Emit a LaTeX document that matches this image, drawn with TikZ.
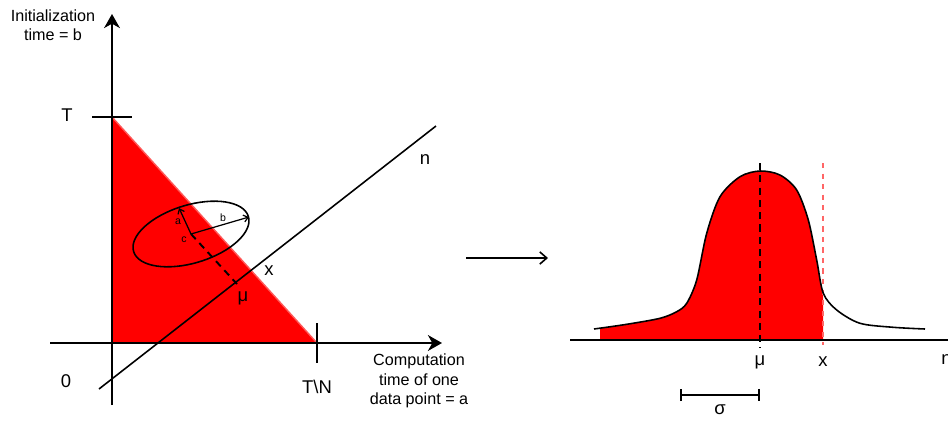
\documentclass[tikz,border=0pt]{standalone}
\usepackage{fontspec}
\setmainfont{Liberation Sans}
\usetikzlibrary{arrows.meta}
\begin{document}
\begin{tikzpicture}[x=0.02cm,y=-0.02cm,
  lbl/.style={font=\fontsize{9.2}{11}\selectfont, align=center, inner sep=0},
  big/.style={font=\fontsize{10.5}{12}\selectfont, inner sep=0},
  tiny/.style={font=\fontsize{6}{7}\selectfont, inner sep=0},
  axisline/.style={line width=1.2pt},
  thinline/.style={line width=0.9pt},
  axhead/.style={-{Stealth[length=8pt,width=9pt,inset=2.5pt]}},
  openhead/.style={-{Straight Barb[length=4pt,width=7pt]}},
  smallhead/.style={-{Straight Barb[length=2.5pt,width=4pt]}}]
\useasboundingbox (0,0) rectangle (948,420);

% ---------- left diagram ----------
\coordinate (O) at (112,343);
\coordinate (Ttop) at (112,117);
\coordinate (TN) at (317,343);
\fill[red] (Ttop) -- (TN) -- (O) -- cycle;
\draw[red!65!white, line width=0.8pt] (Ttop) -- (TN);

\coordinate (yb) at (112,405);
\coordinate (yt) at (112,14);
\coordinate (xl) at (50,343);
\coordinate (xr) at (442,343);
\draw[axisline,axhead] (yb) -- (yt);
\draw[axisline,axhead] (xl) -- (xr);

\coordinate (Tl) at (92,117);
\coordinate (Tr) at (132,117);
\draw[axisline] (Tl) -- (Tr);
\coordinate (TNt) at (317,323);
\coordinate (TNb) at (317,363);
\draw[axisline] (TNt) -- (TNb);

\node[big] (Tlab) at (67,115) {T};
\node[big] (zero) at (66,381) {0};
\node[big] (TNlab) at (317,387) {T\textbackslash N};

\node[lbl] (ylab) at (53,25) {Initialization\\time = b};
\node[lbl] (xlab) at (419,381) {Computation\\time of one\\data point = a};

% line n
\coordinate (n1) at (99,389);
\coordinate (n2) at (436,126);
\draw[thinline] (n1) -- (n2);
\node[big] (nlab) at (425,160) {n};

% ellipse
\coordinate (c) at (191,234);
\draw[thinline, rotate around={17:(c)}] (c) ellipse [x radius=60, y radius=29];
\coordinate (ea) at (179,208);
\coordinate (eb) at (249,217);
\draw[line width=0.7pt,smallhead] (c) -- (ea);
\draw[line width=0.7pt,smallhead] (c) -- (eb);
\node[tiny] (alab) at (178,222) {a};
\node[tiny] (blab) at (223,218) {b};
\node[tiny] (clab) at (184,240) {c};
\coordinate (mu1) at (237,284);
\draw[line width=1.1pt, dash pattern=on 4pt off 3pt] (c) -- (mu1);
\node[big] (mulab1) at (243,298) {μ};
\node[big] (xlab1) at (269,271) {x};

% middle arrow
\coordinate (m1) at (466,258);
\coordinate (m2) at (548,258);
\draw[thinline,openhead] (m1) -- (m2);

% ---------- right diagram ----------
\def\bell{(594,329) (626.7,324.3) (660,318.3) (676.7,311.7) (686.7,303.3) (696.7,280) (706.7,233.3) (720,196.7) (740,176.7) (760,171) (780,175) (796.7,190) (808.3,220) (816.7,260) (823.3,293.3) (836.7,310) (860,323.3) (893.3,327.3) (925,329)}
\begin{scope}
  \clip (600,100) rectangle (823,340);
  \fill[red] plot[smooth] coordinates {\bell} -- (925,340) -- (594,340) -- cycle;
\end{scope}
\coordinate (mut) at (760,163);
\coordinate (mub) at (760,348);
\draw[line width=1pt, dash pattern=on 4pt off 3pt] (mut) -- (mub);
\coordinate (xt) at (823,163);
\coordinate (xb) at (823,345);
\draw[red!60!white, line width=0.8pt, dash pattern=on 3pt off 3pt] (xt) -- (xb);
\draw[thinline] plot[smooth] coordinates {\bell};

\coordinate (al) at (570,340);
\coordinate (ar) at (948,340);
\draw[axisline] (al) -- (ar);
\node[big] (mulab2) at (760,362) {μ};
\node[big] (xlab2) at (823,362) {x};
\node[big, anchor=west] (nlab2) at (941,360) {n};

\coordinate (s1) at (680,395);
\coordinate (s2) at (760,395);
\draw[thinline, {Bar[width=7pt]}-{Bar[width=7pt]}] (s1) -- (s2);
\node[big] (siglab) at (720,410) {σ};
\end{tikzpicture}
\end{document}
